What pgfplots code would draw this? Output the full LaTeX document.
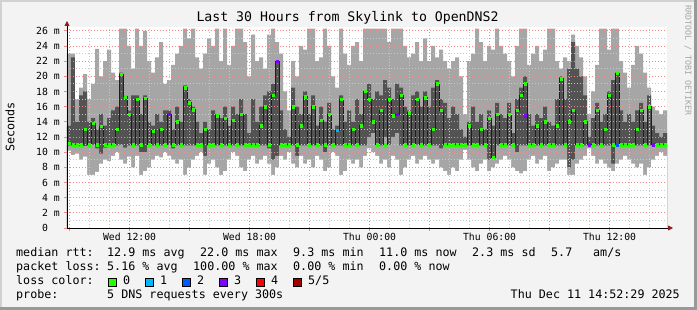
\documentclass[border=0pt]{standalone}
\usepackage{fontspec}
\setmainfont{DejaVu Sans Mono}
\usepackage{pgfplots}
\pgfplotsset{compat=1.18}
\usepackage{pgfplotstable}
\usetikzlibrary{arrows.meta}

\definecolor{bg}{HTML}{F3F3F3}
\definecolor{smokeL}{HTML}{A6A6A6}
\definecolor{smokeD}{HTML}{535353}
\definecolor{medline}{HTML}{1E1E1E}
\definecolor{gridmaj}{HTML}{F08A8A}
\definecolor{gridmin}{HTML}{C8C8C8}
\definecolor{axred}{HTML}{8E1C1C}
\definecolor{l0}{HTML}{26FF00}
\definecolor{l1}{HTML}{00B8FF}
\definecolor{l2}{HTML}{0059FF}
\definecolor{l3}{HTML}{7E00FF}
\definecolor{l4}{HTML}{FF0000}
\definecolor{l5}{HTML}{A10000}

\newcommand{\legfont}{\fontsize{11.7}{13}\selectfont}
\newcommand{\tickfont}{\fontsize{9.8}{11}\selectfont}
\newcommand{\titlefont}{\fontsize{13.2}{15}\selectfont}
\newcommand{\lt}[3]{\node[anchor=west, inner sep=0pt, font=\legfont, text height=8.5pt, text depth=2.5pt] at (#1pt,{(310-#2)*1pt}) {#3};}
\newcommand{\lbox}[2]{\fill[#2] (#1pt,{(310-286)*1pt}) rectangle ({(#1+8)*1pt},{(310-278)*1pt}); \draw[black, line width=0.8pt] (#1pt,{(310-286)*1pt}) rectangle ({(#1+8)*1pt},{(310-278)*1pt});}

% x = column start (hours since Wed 00:00), lo/q1/q3/hi = smoke bands (ms), med = median (ms)
\pgfplotstableread{
x lo q1 q3 hi med
8.87 10.2 10.9 13.5 23.0 11.2
9.07 9.6 10.9 22.5 23.0 11.0
9.27 9.8 11.0 14.0 17.0 11.0
9.47 9.0 10.8 17.5 18.5 11.0
9.67 9.4 10.8 18.0 20.3 13.0
9.87 7.0 10.9 14.0 17.0 11.0
10.07 7.0 11.0 14.5 19.0 13.8
10.27 7.4 10.5 13.0 23.6 11.0
10.47 8.5 9.8 15.0 20.0 13.4
10.67 9.0 10.6 13.5 22.0 11.0
10.87 8.8 10.9 14.5 23.5 11.0
11.07 9.5 10.9 15.5 20.5 11.0
11.27 10.0 10.9 16.0 19.5 13.0
11.47 9.0 11.0 20.5 26.3 20.3
11.67 8.5 10.6 17.5 26.3 17.3
11.87 9.4 10.9 15.5 24.0 15.0
12.07 8.0 10.9 17.5 21.0 11.0
12.27 9.5 10.9 17.5 26.3 17.0
12.47 7.0 10.0 15.0 24.0 11.0
12.67 7.5 10.0 17.5 26.0 17.1
12.87 8.0 11.0 14.0 22.0 11.0
13.07 9.0 10.9 13.5 20.5 12.8
13.27 9.5 10.9 15.0 22.5 11.0
13.47 9.3 10.9 14.0 24.5 13.0
13.67 10.0 10.9 15.5 19.0 11.0
13.87 9.5 11.0 15.5 19.5 15.0
14.07 9.0 10.5 13.0 21.5 11.0
14.27 8.5 10.9 16.0 23.0 14.0
14.47 9.0 11.0 14.0 24.0 11.0
14.67 7.0 10.9 18.8 26.3 18.5
14.87 8.0 10.9 17.0 25.0 16.5
15.07 9.0 10.9 16.0 26.3 15.6
15.27 9.5 10.9 14.0 22.5 11.0
15.47 10.0 10.9 12.5 21.0 11.0
15.67 7.0 9.5 14.0 23.0 13.0
15.87 8.5 10.9 13.0 25.0 11.0
16.07 9.0 10.9 15.5 24.0 11.0
16.27 8.0 10.9 15.0 26.3 14.8
16.47 7.0 10.9 14.5 22.0 11.0
16.67 7.5 10.9 16.0 26.3 14.5
16.87 9.0 10.8 13.5 21.5 11.0
17.07 10.0 10.9 16.0 24.0 14.2
17.27 9.5 10.9 15.0 26.3 11.0
17.47 8.0 10.9 17.0 26.3 15.0
17.67 7.5 10.9 15.0 24.5 11.0
17.87 9.0 10.9 12.5 20.0 11.0
18.07 9.5 10.9 17.0 25.5 11.0
18.27 8.5 10.9 14.0 22.0 11.0
18.47 9.0 10.9 16.0 22.5 13.5
18.67 9.5 10.9 17.5 21.0 16.0
18.87 8.5 10.5 18.0 25.5 11.0
19.07 7.0 9.0 19.0 26.3 17.5
19.27 8.0 9.5 22.0 24.5 22.0
19.47 9.5 10.9 15.5 23.0 11.0
19.67 9.0 10.9 13.0 18.0 11.0
19.87 10.0 10.9 12.0 15.5 11.0
20.07 8.5 10.9 18.5 22.0 16.0
20.27 8.0 9.5 16.0 20.0 11.0
20.47 9.5 10.9 15.0 24.0 13.5
20.67 8.5 10.9 18.0 23.5 17.3
20.87 9.0 10.9 15.0 26.3 11.0
21.07 8.0 10.9 17.5 26.3 16.0
21.27 9.5 10.9 13.5 22.0 11.0
21.47 9.0 10.9 16.0 22.5 14.2
21.67 7.5 10.0 14.0 26.3 11.0
21.87 8.0 10.9 16.5 24.0 15.0
22.07 10.0 10.9 13.0 20.0 11.0
22.27 9.5 10.9 13.5 18.5 12.9
22.47 7.0 10.9 17.5 26.3 17.0
22.67 7.5 10.9 14.0 23.0 11.0
22.87 9.0 10.9 15.5 21.5 11.0
23.07 8.5 10.9 14.0 24.0 13.0
23.27 9.0 10.9 17.0 24.5 11.0
23.47 8.0 10.9 15.0 22.0 13.5
23.67 9.5 10.9 18.0 26.3 18.0
23.87 10.5 12.0 19.0 26.3 17.0
24.07 10.0 12.5 17.0 26.3 14.0
24.27 9.5 11.0 18.0 26.3 11.0
24.47 8.5 10.9 17.5 26.3 15.5
24.67 9.0 12.0 19.5 26.3 11.0
24.87 8.0 11.0 18.5 24.5 17.0
25.07 9.5 12.0 17.0 26.3 14.8
25.27 9.0 12.5 19.0 26.3 15.0
25.47 7.0 10.9 18.5 26.3 17.5
25.67 8.0 11.0 16.0 24.0 11.0
25.87 9.0 10.9 15.5 22.5 15.2
26.07 9.5 11.0 17.5 23.0 11.0
26.27 8.5 11.0 18.0 24.5 17.0
26.47 9.0 10.9 16.0 22.0 11.0
26.67 9.5 10.9 18.0 25.0 17.2
26.87 9.0 10.9 16.0 22.0 11.0
27.07 8.5 10.9 18.5 24.0 13.0
27.27 9.0 10.9 19.5 22.5 19.0
27.47 8.0 10.5 17.0 23.5 15.5
27.67 7.5 10.9 16.5 22.0 11.0
27.87 7.0 10.9 14.5 21.0 11.0
28.07 8.0 10.9 16.0 22.0 11.0
28.27 7.5 10.9 15.0 22.5 11.0
28.47 9.0 10.9 13.0 20.0 11.0
28.67 10.3 10.9 12.0 15.0 11.0
28.87 9.0 10.9 14.0 22.0 13.5
29.07 8.0 10.9 16.0 23.0 11.0
29.27 7.5 10.9 14.0 26.3 11.0
29.47 8.5 10.9 15.0 24.5 13.0
29.67 9.0 10.9 13.0 22.0 11.0
29.87 7.5 9.0 15.5 24.0 14.5
30.07 8.0 9.2 13.5 23.5 9.3
30.27 8.5 10.9 16.5 26.3 15.0
30.47 9.0 10.9 15.0 24.0 11.0
30.67 9.5 10.9 14.5 23.0 11.0
30.87 9.0 10.9 16.5 22.0 15.0
31.07 8.0 10.9 12.5 20.0 11.0
31.27 7.5 10.0 17.0 24.0 15.5
31.47 7.2 10.9 18.5 26.3 17.5
31.67 7.5 10.9 20.0 26.3 19.0
31.87 9.0 10.9 15.0 21.5 11.0
32.07 9.5 10.9 13.5 23.0 11.0
32.27 8.5 10.9 15.0 24.0 13.5
32.47 9.0 10.9 14.5 22.0 11.0
32.67 9.5 10.9 16.0 23.5 14.0
32.87 7.5 10.9 14.0 26.3 11.0
33.07 8.0 10.9 13.5 26.3 11.0
33.27 8.5 10.9 17.0 22.0 13.5
33.47 9.0 10.9 20.0 21.0 19.7
33.67 9.0 10.9 17.0 22.5 11.0
33.87 7.0 8.0 21.0 22.0 14.0
34.07 7.0 9.0 24.5 25.5 15.5
34.27 8.5 10.9 21.0 24.0 11.0
34.47 9.0 10.9 20.0 22.5 11.0
34.67 9.5 10.9 17.5 20.0 14.0
34.87 10.5 10.9 12.0 15.0 11.0
35.07 9.5 10.9 14.5 18.0 11.0
35.27 8.5 10.9 16.5 21.5 15.5
35.47 9.0 10.9 14.0 26.3 11.0
35.67 8.5 10.9 15.0 26.3 13.0
35.87 8.0 10.9 18.0 23.5 17.5
36.07 7.5 8.5 19.5 26.3 11.0
36.27 8.5 10.9 20.5 26.3 20.4
36.47 9.0 10.9 15.5 22.0 11.0
36.67 9.5 10.9 14.0 20.5 11.0
36.87 9.0 10.9 15.0 18.5 11.0
37.07 8.5 10.9 14.0 21.5 11.0
37.27 8.0 10.9 15.5 24.0 13.0
37.47 8.5 10.9 16.5 23.0 15.5
37.67 7.0 10.9 14.0 20.5 11.0
37.87 8.0 10.9 17.5 18.5 16.0
38.07 9.0 10.9 13.5 16.0 11.0
38.27 9.5 10.9 12.5 15.5 11.0
38.47 10.0 10.9 12.0 15.0 11.0
38.67 9.5 10.9 12.5 15.5 11.0
38.87 9.5 10.9 12.5 15.5 11.0
}\smoke

\begin{document}
\begin{tikzpicture}
\fill[bg] (0,0) rectangle (697pt,310pt);
\useasboundingbox (0,0) rectangle (697pt,310pt);
\draw[color=black!18, line width=2pt] (1pt,0) -- (1pt,309pt) -- (697pt,309pt);
\draw[color=black!40, line width=3pt] (0,1.5pt) -- (695.5pt,1.5pt) -- (695.5pt,310pt);

\begin{axis}[
  at={(67pt,82pt)}, anchor=south west,
  scale only axis, width=600pt, height=201pt,
  xmin=8.87, xmax=38.87, ymin=0, ymax=26.5,
  axis on top,
  axis background/.style={fill=white},
  axis lines=left,
  axis line style={black, line width=0.8pt},
  x axis line style={-{Triangle[length=5pt,width=5pt,color=axred]}, shorten >=-6pt},
  y axis line style={-{Triangle[length=5pt,width=5pt,color=axred]}, shorten >=-6pt},
  xtick={9,12,...,36},
  xticklabels={{},{Wed 12:00},{},{Wed 18:00},{},{Thu 00:00},{},{Thu 06:00},{},{Thu 12:00}},
  minor xtick={10,11,13,14,16,17,19,20,22,23,25,26,28,29,31,32,34,35,37,38},
  ytick={0,2,...,26},
  yticklabels={{0\hphantom{ m}},{2 m},{4 m},{6 m},{8 m},{10 m},{12 m},{14 m},{16 m},{18 m},{20 m},{22 m},{24 m},{26 m}},
  minor ytick={1,3,...,25},
  grid=both,
  major grid style={draw=gridmaj, dash pattern=on 1pt off 2pt, line width=0.8pt},
  minor grid style={draw=gridmin, dash pattern=on 1pt off 2pt, line width=0.8pt},
  tick align=outside,
  major tick length=3pt, minor tick length=0pt,
  tick style={color=gridmaj, line width=0.8pt},
  ticklabel style={font=\tickfont},
  yticklabel style={anchor=east, inner sep=0pt, xshift=-4pt},
  xticklabel style={anchor=north, inner sep=0pt, yshift=-2pt},
  /pgf/number format/assume math mode=true,
]
\addplot[const plot mark left, fill=smokeL, draw=none] table[x=x,y=hi]{\smoke} \closedcycle;
\addplot[const plot mark left, fill=smokeD, draw=none] table[x=x,y=q3]{\smoke} \closedcycle;
\addplot[const plot mark left, fill=smokeL, draw=none] table[x=x,y=q1]{\smoke} \closedcycle;
\addplot[const plot mark left, fill=white, draw=none] table[x=x,y=lo]{\smoke} \closedcycle;
\addplot[const plot mark left, draw=medline, line width=0.9pt] table[x=x,y=med]{\smoke};
\addplot[only marks, color=l0, mark=square*, mark size=1.2pt,
  skip coords between index={150}{151}] table[x expr=\thisrow{x}+0.1, y=med]{\smoke};
\addplot[only marks, color=l3, mark=square*, mark size=1.2pt]
  coordinates {(13.97,15.0) (19.37,22.0) (25.37,15.0) (31.77,14.8) (34.97,11.0) (38.17,11.0)};
\addplot[only marks, color=l1, mark=square*, mark size=1.2pt]
  coordinates {(22.37,12.9)};
\addplot[only marks, color=l2, mark=square*, mark size=1.2pt]
  coordinates {(36.37,11.0)};
\end{axis}

\node[font=\titlefont] at (347.5pt,{(310-18)*1pt}) {Last 30 Hours from Skylink to OpenDNS2};
\node[rotate=90, font=\legfont] at (10pt,{(310-127)*1pt}) {Seconds};
\node[rotate=-90, anchor=west, inner sep=0pt, font=\fontsize{8.3}{9}\selectfont, text=black!35] at (688pt,{(310-5)*1pt}) {RRDTOOL / TOBI OETIKER};

\lt{16}{254}{median rtt:}
\lt{107}{254}{12.9 ms avg}
\lt{200}{254}{22.0 ms max}
\lt{293}{254}{9.3 ms min}
\lt{379}{254}{11.0 ms now}
\lt{472}{254}{2.3 ms sd}
\lt{551}{254}{5.7}
\lt{593}{254}{am/s}

\lt{16}{268}{packet loss:}
\lt{107}{268}{5.16 \% avg}
\lt{193}{268}{100.00 \% max}
\lt{293}{268}{0.00 \% min}
\lt{379}{268}{0.00 \% now}

\lt{16}{282}{loss color:}
\lbox{108}{l0} \lt{123}{282}{0}
\lbox{145}{l1} \lt{160}{282}{1}
\lbox{182}{l2} \lt{197}{282}{2}
\lbox{219}{l3} \lt{234}{282}{3}
\lbox{256}{l4} \lt{271}{282}{4}
\lbox{293}{l5} \lt{308}{282}{5/5}

\lt{16}{296}{probe:}
\lt{107}{296}{5 DNS requests every 300s}
\node[anchor=east, inner sep=0pt, font=\legfont, text height=8.5pt, text depth=2.5pt] at (680pt,{(310-296)*1pt}) {Thu Dec 11 14:52:29 2025};
\end{tikzpicture}
\end{document}
